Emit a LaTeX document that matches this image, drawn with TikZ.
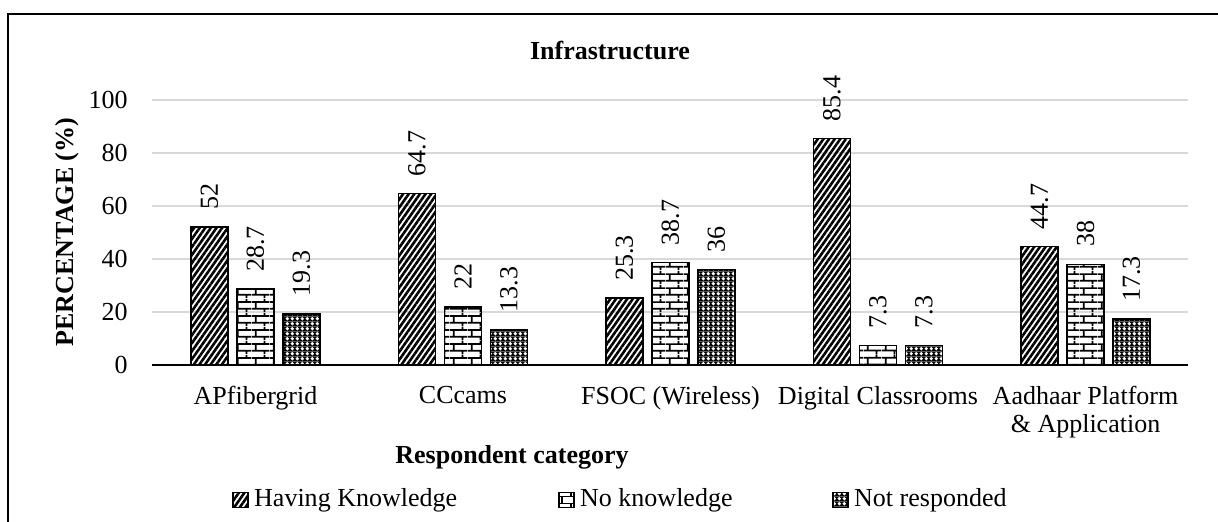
\documentclass[tikz,border=0pt]{standalone}
\usepackage{fontspec}
\setmainfont{Liberation Serif}
\usepackage{tikz}
\usetikzlibrary{patterns.meta}
\usetikzlibrary{positioning}
\definecolor{grid-gray}{HTML}{D9D9D9}

% brick fill for the "No knowledge" bars
\pgfdeclarepattern{
  name=brickwall, type=uncolored,
  bottom left={\pgfpoint{0pt}{0pt}}, top right={\pgfpoint{9pt}{7pt}},
  tile size={\pgfpoint{9pt}{7pt}},
  code={
    \pgfsetlinewidth{0.9pt}
    \pgfpathmoveto{\pgfpoint{0pt}{1.75pt}}\pgfpathlineto{\pgfpoint{9pt}{1.75pt}}
    \pgfpathmoveto{\pgfpoint{0pt}{5.25pt}}\pgfpathlineto{\pgfpoint{9pt}{5.25pt}}
    \pgfpathmoveto{\pgfpoint{2pt}{1.75pt}}\pgfpathlineto{\pgfpoint{2pt}{5.25pt}}
    \pgfpathmoveto{\pgfpoint{6.5pt}{5.25pt}}\pgfpathlineto{\pgfpoint{6.5pt}{7pt}}
    \pgfpathmoveto{\pgfpoint{6.5pt}{0pt}}\pgfpathlineto{\pgfpoint{6.5pt}{1.75pt}}
    \pgfusepath{stroke}
  }
}
% fine mesh for the "Not responded" bars
\pgfdeclarepattern{
  name=meshdots, type=colored,
  bottom left={\pgfpoint{0pt}{0pt}}, top right={\pgfpoint{2.6pt}{2.6pt}},
  tile size={\pgfpoint{2.6pt}{2.6pt}},
  code={
    \pgfsetfillcolor{black}
    \pgfpathrectangle{\pgfpointorigin}{\pgfpoint{2.6pt}{2.6pt}}\pgfusepath{fill}
    \pgfsetfillcolor{white}
    \pgfpathcircle{\pgfpoint{1.3pt}{1.3pt}}{1.02pt}\pgfusepath{fill}
  }
}

\begin{document}
\begin{tikzpicture}[
    x=0.5pt, y=-0.5pt,
    font=\fontsize{13}{14}\selectfont
  ]
  \tikzset{
    framebox/.style={draw=black, line width=1pt},
    gridline/.style={draw=grid-gray, line width=0.8pt},
    axisline/.style={draw=black, line width=0.8pt},
    hkbar/.style={draw=black, line width=0.8pt, pattern={Lines[angle=55, distance=2.3pt, line width=1.3pt]}},
    nkbar/.style={draw=black, line width=0.8pt, pattern=brickwall},
    nrbar/.style={draw=black, line width=0.8pt, pattern=meshdots},
    ticklabel/.style={anchor=east, inner sep=0pt},
    vallabel/.style={rotate=90, anchor=west, inner sep=0pt},
    catlabel/.style={anchor=north, inner sep=0pt, align=center},
    axistitle/.style={font=\fontsize{13}{14}\selectfont\bfseries, inner sep=0pt},
    legendkey/.style={minimum size=7.5pt, inner sep=0pt, line width=0.6pt},
    legendtext/.style={anchor=west, inner sep=0pt}
  }

  \useasboundingbox (0,0) rectangle (1218,521);
  \clip (0,0) rectangle (1218,521);
  \draw[framebox] (8,14) rectangle (1240,540);

  % grid and y ticks
  \foreach \v in {20,40,...,100}
    \draw[gridline] (152,{365-2.65*\v}) -- (1188,{365-2.65*\v});
  \foreach \v in {0,20,...,100}
    \node[ticklabel] (tick\v) at (128,{365-2.65*\v}) {\v};

  % bars: Having Knowledge / No knowledge / Not responded
  \foreach \cx/\hk/\nk/\nr [count=\i] in {255.5/52/28.7/19.3, 463/64.7/22/13.3,
      670.5/25.3/38.7/36, 878/85.4/7.3/7.3, 1085.5/44.7/38/17.3} {
    \draw[hkbar] (\cx-64.5,365) rectangle (\cx-27.5,{365-2.65*\hk});
    \draw[nkbar] (\cx-18.5,365) rectangle (\cx+18.5,{365-2.65*\nk});
    \draw[nrbar] (\cx+27.5,365) rectangle (\cx+64.5,{365-2.65*\nr});
    \node[vallabel] (hkval\i) at (\cx-46,{365-2.65*\hk-17}) {\hk};
    \node[vallabel] (nkval\i) at (\cx,{365-2.65*\nk-17}) {\nk};
    \node[vallabel] (nrval\i) at (\cx+46,{365-2.65*\nr-17}) {\nr};
  }
  \draw[axisline] (152,365) -- (1188,365);

  \node[catlabel] (apfiber) at (255.5,386) {APfibergrid};
  \node[catlabel] (cccams) at (463,386) {CCcams};
  \node[catlabel] (fsoc) at (670.5,386) {FSOC (Wireless)};
  \node[catlabel] (digital) at (878,386) {Digital Classrooms};
  \node[catlabel] (aadhaar) at (1085.5,386) {Aadhaar Platform\\\& Application};

  \node[axistitle] (title) at (610,50) {Infrastructure};
  \node[axistitle, rotate=90] (ytitle) at (67,232) {PERCENTAGE (\%)};
  \node[axistitle] (xtitle) at (512,457) {Respondent category};

  % legend
  \node[legendkey, hkbar] (keyhk) at (240.5,500) {};
  \node[legendtext, right=2.5pt of keyhk] (texthk) {Having Knowledge};
  \node[legendkey, nkbar] (keynk) at (566.5,500) {};
  \node[legendtext, right=2.5pt of keynk] (textnk) {No knowledge};
  \node[legendkey, nrbar] (keynr) at (840.5,500) {};
  \node[legendtext, right=2.5pt of keynr] (textnr) {Not responded};
\end{tikzpicture}
\end{document}
